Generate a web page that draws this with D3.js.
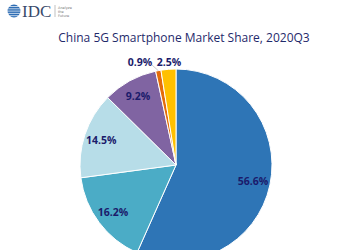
<!DOCTYPE html>
<html>
<head>
<meta charset="utf-8">
<script src="https://cdn.jsdelivr.net/npm/d3@7"></script>
<style>
  body { margin: 0; background: #fff; }
  svg { display: block; }
</style>
</head>
<body>
<div id="chart"></div>
<script>
var labels = ["56.6%", "16.2%", "14.5%", "9.2%", "0.9%", "2.5%"]
var shares = [56.6, 16.2, 14.5, 9.2, 0.9, 2.5]
var colors = ["#2e75b6", "#4bacc6", "#b7dde8", "#8064a2", "#e46c0a", "#ffc000"]

var width = 359, height = 250
var cx = 176, cy = 165, radius = 96

var svg = d3.select("#chart").append("svg")
  .attr("width", width)
  .attr("height", height)

// logo
var logo = svg.append("g")
logo.append("circle").attr("cx", 14).attr("cy", 11).attr("r", 6.5).attr("fill", "#2e6db4")
for (var i = 0; i < 5; i++) {
  logo.append("line")
    .attr("x1", 7).attr("x2", 21)
    .attr("y1", 6.5 + i * 2.3).attr("y2", 6.5 + i * 2.3)
    .attr("stroke", "#fff").attr("stroke-width", 0.7)
}
logo.append("text")
  .attr("x", 22).attr("y", 17)
  .attr("font-family", "Liberation Serif, serif")
  .attr("font-size", 17)
  .attr("fill", "#3a4a6b")
  .text("IDC")
logo.append("line").attr("x1", 55).attr("x2", 55).attr("y1", 5).attr("y2", 17)
  .attr("stroke", "#999").attr("stroke-width", 0.6)
logo.append("text").attr("x", 58).attr("y", 9).attr("font-size", 3.5)
  .attr("font-family", "DejaVu Sans").attr("fill", "#777").text("Analyze")
logo.append("text").attr("x", 58).attr("y", 13).attr("font-size", 3.5)
  .attr("font-family", "DejaVu Sans").attr("fill", "#777").text("the")
logo.append("text").attr("x", 58).attr("y", 17).attr("font-size", 3.5)
  .attr("font-family", "DejaVu Sans").attr("fill", "#777").text("Future")

// title
svg.append("text")
  .attr("x", 184).attr("y", 42)
  .attr("text-anchor", "middle")
  .attr("font-family", "Open Sans, sans-serif")
  .attr("font-size", 12)
  .attr("fill", "#1f2a6b")
  .text("China 5G Smartphone Market Share, 2020Q3")

var data = shares.map(function(v, i) { return { value: v, label: labels[i], color: colors[i] } })

var pie = d3.pie().sort(null).value(function(d) { return d.value })
var arcs = pie(data)

var arc = d3.arc().innerRadius(0).outerRadius(radius)
var labelArc = d3.arc().innerRadius(radius * 0.82).outerRadius(radius * 0.82)

var g = svg.append("g").attr("transform", "translate(" + cx + "," + cy + ")")

g.selectAll("path.slice")
  .data(arcs)
  .enter().append("path")
  .attr("class", "slice")
  .attr("d", arc)
  .attr("fill", function(d) { return d.data.color })
  .attr("stroke", "#fff")
  .attr("stroke-width", 1)

// labels: small slices at top get outside labels
var outside = { "0.9%": [-36, -103], "2.5%": [-7, -103] }

g.selectAll("text.lbl")
  .data(arcs)
  .enter().append("text")
  .attr("class", "lbl")
  .attr("transform", function(d) {
    var p = outside[d.data.label] ? outside[d.data.label] : labelArc.centroid(d)
    return "translate(" + p[0] + "," + p[1] + ")"
  })
  .attr("text-anchor", "middle")
  .attr("dy", "0.35em")
  .attr("font-family", "Open Sans, sans-serif")
  .attr("font-weight", "bold")
  .attr("font-size", 10.5)
  .attr("fill", "#1b1b6b")
  .text(function(d) { return d.data.label })

// leader line for 0.9%
var small = arcs[4]
var inner = d3.arc().innerRadius(radius).outerRadius(radius).centroid(small)
g.append("line")
  .attr("x1", inner[0]).attr("y1", inner[1])
  .attr("x2", -24).attr("y2", -100)
  .attr("stroke", "#a6a6a6").attr("stroke-width", 0.6)
</script>
</body>
</html>
